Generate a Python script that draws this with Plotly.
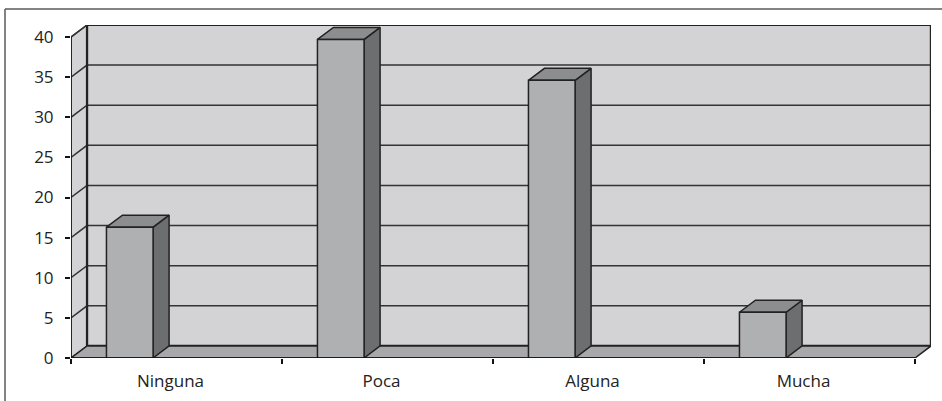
import plotly.graph_objects as go

categories = ["Ninguna", "Poca", "Alguna", "Mucha"]
values = [16.3, 39.7, 34.6, 5.7]
y_ticks = [0, 5, 10, 15, 20, 25, 30, 35, 40]

# 3D depth offsets in data units
DX = 16 / 211.0
DY = 1.5
BAR_L, BAR_R = 0.168, 0.389
N = len(categories)
YMAX = 40

WALL = "#D3D3D5"
FLOOR = "#A8A8AA"
FRONT = "#AFB0B2"
SIDE = "#6D6E70"
TOP = "#8C8D8F"
EDGE = "#222222"

fig = go.Figure()

def poly(xs, ys, fill, lw=1.5, color=EDGE):
    fig.add_trace(go.Scatter(x=xs + [xs[0]], y=ys + [ys[0]], mode="lines", fill="toself",
                             fillcolor=fill, line=dict(color=color, width=lw),
                             hoverinfo="skip", showlegend=False, xaxis="x", yaxis="y"))

def seg(xs, ys, lw=1.5, color=EDGE):
    fig.add_trace(go.Scatter(x=xs, y=ys, mode="lines", line=dict(color=color, width=lw),
                             hoverinfo="skip", showlegend=False, xaxis="x", yaxis="y"))

# back wall
poly([DX, N + DX, N + DX, DX], [DY, DY, YMAX + DY, YMAX + DY], WALL, lw=2.2)
# side wall
poly([0, DX, DX, 0], [0, DY, YMAX + DY, YMAX], WALL, lw=1.2)
# floor
poly([0, N, N + DX, DX], [0, 0, DY, DY], FLOOR, lw=1.5)

# gridlines
gx, gy = [], []
for v in y_ticks[1:]:
    gx += [0, DX, N + DX, None]
    gy += [v, v + DY, v + DY, None]
seg(gx, gy, lw=1.5, color="#333333")
# back wall left edge & border redraw
seg([DX, DX], [DY, YMAX + DY], lw=2.2)
seg([DX, N + DX, N + DX], [YMAX + DY, YMAX + DY, DY], lw=2.2)
# front y axis line
seg([0, 0], [0, YMAX], lw=1.5, color="#111111")

# bars
for i, v in enumerate(values):
    l, r = i + BAR_L, i + BAR_R
    poly([r, r + DX, r + DX, r], [0, DY, v + DY, v], SIDE)
    poly([l, r, r + DX, l + DX], [v, v, v + DY, v + DY], TOP)
    poly([l, r, r, l], [0, 0, v, v], FRONT)

# front floor edge
seg([0, N], [0, 0], lw=1.5, color="#111111")

# dummy trace for boundary tick axis
fig.add_trace(go.Scatter(x=[0], y=[0], mode="markers", marker=dict(opacity=0),
                         hoverinfo="skip", showlegend=False, xaxis="x2", yaxis="y"))

FONT = dict(family="Open Sans", size=17, color="#222222")

x_range = [0, N + DX]
fig.update_layout(
    width=942, height=401,
    margin=dict(l=71, r=11, t=25, b=43),
    paper_bgcolor="white", plot_bgcolor="white",
    font=FONT,
    xaxis=dict(range=x_range, tickvals=[i + 0.5 for i in range(N)], ticktext=categories,
               ticks="", showgrid=False, zeroline=False, showline=False, automargin=False,
               ticklabelshift=-6, ticklabelstandoff=11, tickfont=FONT, fixedrange=True),
    xaxis2=dict(range=x_range, overlaying="x", anchor="y", side="bottom", automargin=False,
                tickvals=list(range(N + 1)), ticks="outside", ticklen=5, tickwidth=1.5,
                tickcolor="#111111", showticklabels=False, showgrid=False,
                zeroline=False, showline=False, fixedrange=True),
    yaxis=dict(range=[0, YMAX + DY + 0.0], tickvals=y_ticks, ticktext=[str(t) for t in y_ticks],
               ticks="outside", ticklen=5, tickwidth=1.5, tickcolor="#111111", automargin=False,
               showgrid=False, zeroline=False, showline=False, tickfont=FONT,
               ticklabelstandoff=8, fixedrange=True),
)

# outer frame (left and top edges visible)
fx0 = (5 - 71) / 860
fx1 = (942 - 71) / 860
fy_top = (358 - 9) / 333
fy_bot = (358 - 401) / 333
fig.add_shape(type="line", xref="paper", yref="paper", x0=fx0, x1=fx1, y0=fy_top, y1=fy_top,
              line=dict(color="#5a5a5a", width=1.5))
fig.add_shape(type="line", xref="paper", yref="paper", x0=fx0, x1=fx0, y0=fy_top, y1=fy_bot,
              line=dict(color="#5a5a5a", width=1.5))

fig.write_html("out.html")
